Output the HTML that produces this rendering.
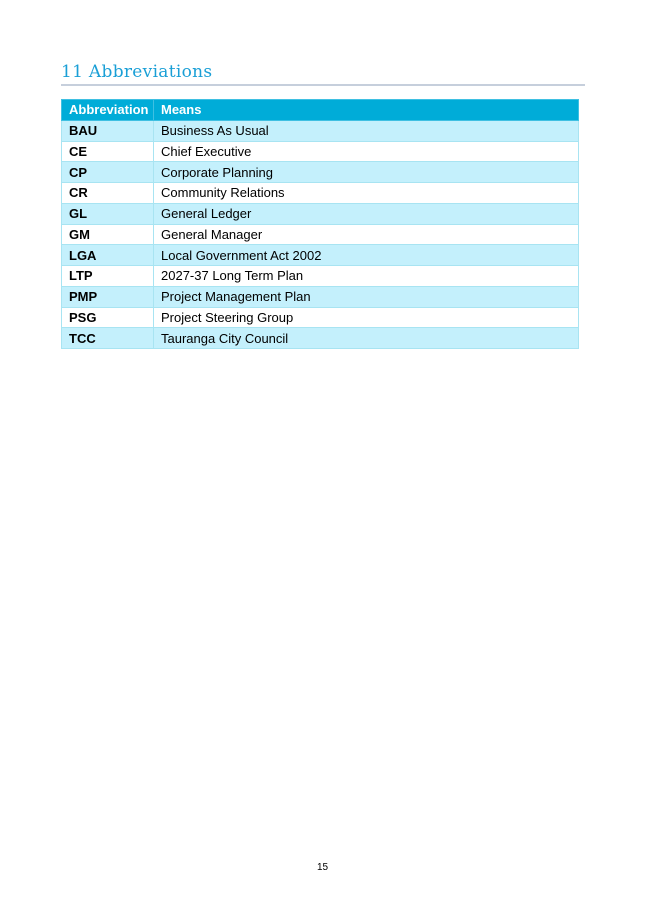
<!DOCTYPE html>
<html><head><style>
body{margin:0;width:645px;height:912px;background:#fff;position:relative;font-family:"Liberation Sans",Arial,sans-serif;}
h1{position:absolute;left:61px;top:62px;margin:0;font-family:"DejaVu Serif","Liberation Serif",serif;font-weight:normal;font-size:17px;color:#1a9fd6;letter-spacing:0.3px;}
.rule{position:absolute;left:61px;top:84px;width:524px;height:2px;background:#c6cfdc;}
table{position:absolute;left:61px;top:99px;width:518px;border-collapse:collapse;font-size:13px;}
td{height:20.75px;padding:0 0 0 7px;border:1px solid #a8e4f2;box-sizing:border-box;color:#000;}
td:first-child{width:92px;font-weight:bold;}
tr.h td{background:#00acd8;color:#fff;font-weight:bold;border-color:#3fc0e2;}
tr.a td{background:#c4f0fc;}
tr.b td{background:#fff;}
.pn{position:absolute;top:862px;left:0;width:645px;text-align:center;font-size:10px;}
</style></head><body>
<h1>11 Abbreviations</h1>
<div class="rule"></div>
<table>
<tr class="h"><td>Abbreviation</td><td>Means</td></tr>
<tr class="a"><td>BAU</td><td>Business As Usual</td></tr>
<tr class="b"><td>CE</td><td>Chief Executive</td></tr>
<tr class="a"><td>CP</td><td>Corporate Planning</td></tr>
<tr class="b"><td>CR</td><td>Community Relations</td></tr>
<tr class="a"><td>GL</td><td>General Ledger</td></tr>
<tr class="b"><td>GM</td><td>General Manager</td></tr>
<tr class="a"><td>LGA</td><td>Local Government Act 2002</td></tr>
<tr class="b"><td>LTP</td><td>2027-37 Long Term Plan</td></tr>
<tr class="a"><td>PMP</td><td>Project Management Plan</td></tr>
<tr class="b"><td>PSG</td><td>Project Steering Group</td></tr>
<tr class="a"><td>TCC</td><td>Tauranga City Council</td></tr>
</table>
<div class="pn">15</div>
</body></html>
